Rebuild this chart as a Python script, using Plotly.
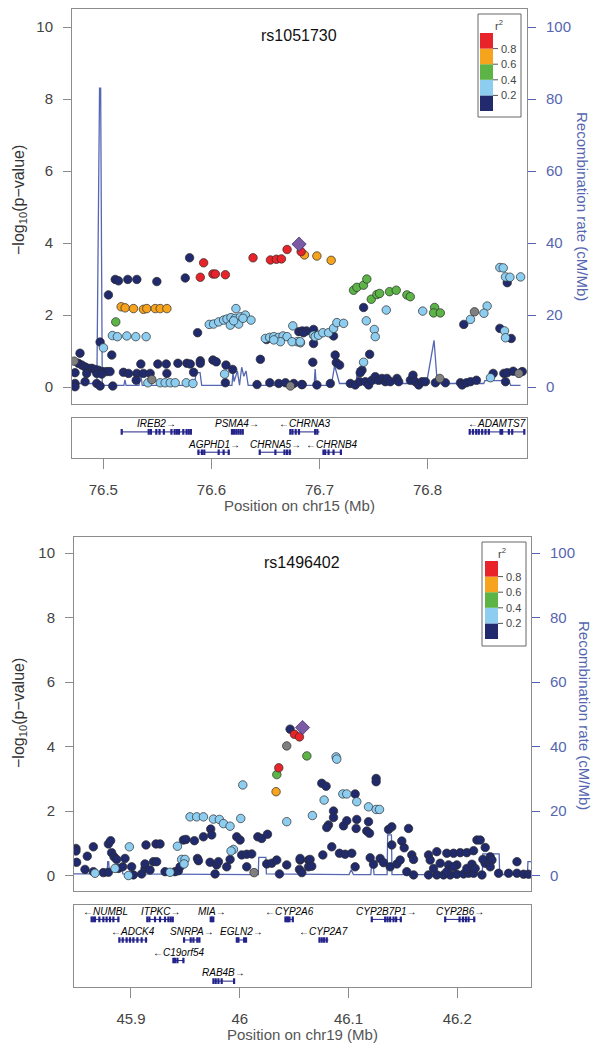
import plotly.graph_objects as go

FONT = "Liberation Sans, Arial, Helvetica, sans-serif"
W, H = 602, 1050
OFF = 8                      # page (body) margin of the browser
FW, FH = W - OFF, H - OFF    # figure size so the page fits the window

C_NAVY = "#202a6c"
C_LBLUE = "#8dcdf0"
C_GREEN = "#5cb447"
C_ORANGE = "#f6a31e"
C_RED = "#e8232a"
C_GRAY = "#7f7f7f"
C_INDEX = "#7b5aa6"
C_REC = "#5567b3"
C_AXIS = "#8c8c8c"
C_GENE = "#23238a"
C_RTXT = "#5566b0"

# ======================= Panel 1: rs1051730 (chr15) =======================
p1_title = "rs1051730"
p1_xlabel = "Position on chr15 (Mb)"
p1_xrange = [76.471, 76.892]
p1_xticks = [76.5, 76.6, 76.7, 76.8]
p1_xticktext = ["76.5", "76.6", "76.7", "76.8"]

p1_navy_x = [76.5798, 76.5758, 76.5495, 76.511, 76.514, 76.5226, 76.531, 76.5047, 76.5872, 76.497, 76.5078, 76.4784, 76.6453,
             76.5347, 76.5504, 76.5582, 76.569, 76.5773, 76.5804, 76.5897, 76.5897, 76.6014, 76.6045, 76.6135, 76.6197,
             76.4769, 76.48, 76.4831, 76.4862, 76.4893, 76.4923, 76.4954, 76.4995, 76.5032, 76.5062, 76.4738, 76.4846, 76.4939, 76.4985,
             76.5186, 76.5233, 76.531, 76.5371, 76.5433, 76.5588, 76.5835, 76.5304,
             76.4738, 76.4738, 76.4831, 76.4939, 76.497, 76.5087, 76.6129, 76.6422, 76.654, 76.6623, 76.6685, 76.6762, 76.684,
             76.651, 76.6809, 76.684, 76.688,
             76.6852, 76.6945, 76.6945, 76.713, 76.6938, 76.7145, 76.7155, 76.7186, 76.7408, 76.7464, 76.7393, 76.7377, 76.8335, 76.8669, 76.8774, 76.8737,
             76.6836, 76.6976, 76.71, 76.7285, 76.7331, 76.7371, 76.7424, 76.7455, 76.7485, 76.7516, 76.7547, 76.7578, 76.7609, 76.7624, 76.7655,
             76.7717, 76.7733, 76.7841, 76.7865, 76.7887, 76.7918, 76.7949, 76.798, 76.8072, 76.8165, 76.8304, 76.832, 76.836, 76.8397, 76.8452,
             76.8607, 76.8706, 76.8721, 76.8737, 76.8792, 76.8876]
p1_navy_y = [3.59, 3.03, 2.93, 2.99, 2.95, 2.99, 2.99, 2.56, 1.51, 1.25, 0.89, 0.94, 0.77,
             0.64, 0.64, 0.64, 0.66, 0.66, 0.64, 0.73, 0.66, 0.75, 0.70, 0.61, 0.49,
             0.66, 0.61, 0.56, 0.52, 0.52, 0.49, 0.47, 0.43, 0.43, 0.43, 0.40, 0.38, 0.38, 0.36,
             0.41, 0.38, 0.38, 0.38, 0.38, 0.38, 0.41, 0.19,
             0.10, 0.01, 0.15, 0.10, 0.03, 0.03, 0.12, 0.07, 0.12, 0.10, 0.12, 0.10, 0.07,
             1.32, 1.54, 1.56, 1.56,
             1.51, 1.60, 1.21, 1.42, 0.69, 0.89, 0.68, 0.61, 2.21, 0.91, 0.47, 0.40, 1.74, 1.63, 1.35, 2.90,
             0.07, 0.06, 0.10, 0.10, 0.06, 0.15, 0.15, 0.06, 0.19, 0.29, 0.19, 0.24, 0.15, 0.24, 0.15,
             0.24, 0.15, 0.19, 0.33, 0.15, 0.06, 0.15, 0.15, 0.12, 0.12, 0.12, 0.06, 0.12, 0.15, 0.19,
             0.38, 0.38, 0.15, 0.40, 0.44, 0.43]

p1_lblue_x = [76.5084, 76.513, 76.5217, 76.53, 76.5396, 76.5001,
              76.6227, 76.598, 76.602, 76.6067, 76.6113, 76.6144, 76.6181, 76.6221, 76.6268, 76.6314, 76.6366, 76.6175, 76.6252, 76.6206, 76.6292,
              76.5412, 76.5526, 76.5572, 76.5619, 76.5665, 76.5767, 76.5829, 76.6122,
              76.6499, 76.6539, 76.6577, 76.6623, 76.6663, 76.67, 76.6753, 76.6793, 76.6639, 76.6746, 76.6824, 76.6577,
              76.6821, 76.6945, 76.696, 76.6991, 76.7031, 76.7084, 76.713, 76.7161, 76.7223,
              76.7618, 76.7955, 76.7433, 76.7507, 76.7516, 76.7408,
              76.8669, 76.87, 76.8721, 76.8762, 76.8861,
              76.8551, 76.8521, 76.8397, 76.8712, 76.8721, 76.8582]
p1_lblue_y = [1.43, 1.40, 1.42, 1.40, 1.40, 1.09,
              2.18, 1.74, 1.75, 1.81, 1.86, 1.89, 1.93, 1.91, 1.95, 2.0, 1.86, 1.72, 1.75, 1.84, 1.91,
              0.12, 0.12, 0.12, 0.12, 0.12, 0.12, 0.10, 0.36,
              1.35, 1.38, 1.40, 1.38, 1.42, 1.40, 1.70, 1.26, 1.26, 1.26, 1.23, 1.31,
              1.26, 1.44, 1.40, 1.44, 1.51, 1.51, 1.63, 1.79, 1.77,
              2.14, 2.11, 1.84, 1.60, 1.40, 0.69,
              3.32, 3.31, 3.06, 3.05, 3.06,
              2.25, 2.05, 1.88, 1.56, 1.37, 0.26]

p1_green_x = [76.5115, 76.7315, 76.7346, 76.7407, 76.7438, 76.7479, 76.7531, 76.7556, 76.7648, 76.771, 76.7809, 76.784, 76.8065, 76.8056, 76.8118]
p1_green_y = [1.81, 2.69, 2.77, 2.83, 3.0, 2.44, 2.57, 2.6, 2.65, 2.69, 2.56, 2.51, 2.21, 2.06, 2.06]

p1_orange_x = [76.5165, 76.5202, 76.5279, 76.5371, 76.5402, 76.548, 76.5526, 76.5588, 76.6861, 76.6976, 76.7108]
p1_orange_y = [2.23, 2.20, 2.18, 2.16, 2.18, 2.18, 2.18, 2.18, 3.67, 3.64, 3.52]

p1_red_x = [76.5928, 76.5897, 76.6014, 76.6036, 76.6129, 76.6385, 76.6546, 76.6601, 76.6648, 76.67, 76.683]
p1_red_y = [3.45, 3.05, 3.14, 3.14, 3.12, 3.59, 3.53, 3.55, 3.56, 3.82, 3.76]

p1_gray_x = [76.473, 76.5449, 76.6731, 76.8113, 76.8434, 76.8845]
p1_gray_y = [0.72, 0.21, 0.03, 0.24, 2.09, 0.38]

p1_index_x = [76.6811]
p1_index_y = [3.97]

p1_rec_x = [76.471, 76.494, 76.4965, 76.4975, 76.499, 76.519, 76.520, 76.521, 76.533, 76.5345, 76.536, 76.584, 76.586, 76.5895,
            76.591, 76.619, 76.620, 76.621, 76.624, 76.626, 76.628, 76.630, 76.632, 76.634, 76.695, 76.696, 76.697, 76.711,
            76.714, 76.7185, 76.734, 76.735, 76.736, 76.799, 76.806, 76.809, 76.852, 76.853, 76.875, 76.877, 76.886]
p1_rec_y = [1.0, 1.0, 83, 83, 0.5, 0.5, 2, 0.5, 0.5, 4, 0.5, 0.5, 4, 4,
            0.5, 0.5, 4, 1.5, 4.5, 0.5, 5.5, 3, 4.5, 0.5, 0.5, 5, 0.5, 0.5,
            6, 1.0, 1.0, 5.3, 1.0, 1.0, 13, 1.0, 1.0, 1.8, 1.8, 0.5, 0.5]

p1_gene_name = ["IREB2", "PSMA4", "CHRNA3", "ADAMTS7", "AGPHD1", "CHRNA5", "CHRNB4"]
p1_gene_start = [76.517, 76.619, 76.673, 76.839, 76.587, 76.6445, 76.703]
p1_gene_end = [76.581, 76.629, 76.700, 76.890, 76.617, 76.674, 76.7207]
p1_gene_strand = ["+", "+", "-", "-", "+", "+", "-"]
p1_gene_row = [1, 1, 1, 1, 2, 2, 2]
p1_gene_exons = [
    [76.517, 76.542, 76.544, 76.549, 76.552, 76.556, 76.563, 76.566, 76.568, 76.570, 76.574, 76.577, 76.579, 76.581],
    [76.619, 76.621, 76.623, 76.625, 76.627, 76.629],
    [76.673, 76.675, 76.678, 76.681, 76.696, 76.698],
    [76.839, 76.842, 76.845, 76.8474, 76.8505, 76.8536, 76.8567, 76.8675, 76.869, 76.8752, 76.8783, 76.8895],
    [76.588, 76.5912, 76.5934, 76.6067, 76.6113, 76.616],
    [76.6447, 76.6592, 76.6676, 76.670, 76.6725],
    [76.7037, 76.7053, 76.7084, 76.713, 76.7198],
]

# ======================= Panel 2: rs1496402 (chr19) =======================
p2_title = "rs1496402"
p2_xlabel = "Position on chr19 (Mb)"
p2_xrange = [45.8476, 46.2678]
p2_xticks = [45.9, 46.0, 46.1, 46.2]
p2_xticktext = ["45.9", "46", "46.1", "46.2"]

p2_navy_x = [46.0463,
             45.8494, 45.8494, 45.85, 45.8598, 45.8654, 45.8792, 45.8813, 45.8822, 45.8844, 45.8868, 45.8577, 45.8654, 45.8746, 45.8792,
             45.8884, 45.8924, 45.8945, 45.9006, 45.9022, 45.9098, 45.9129, 45.9129, 45.9175, 45.9206, 45.9236, 45.9138, 45.923, 45.9267,
             45.9313, 45.9405, 45.9436, 45.9451, 45.9482, 45.9506, 45.9583, 45.9611, 45.962, 45.9666, 45.9733, 45.9742, 45.9727, 45.9773,
             45.9788, 45.9804, 45.988, 45.9911, 45.9972, 46.0003, 46.0018, 46.0064, 46.011, 46.0064, 46.0166, 46.0202, 46.0255, 46.0248,
             46.0294, 46.034, 46.0365, 46.0432, 46.0549, 46.0555, 46.0571, 46.0632, 46.0632,
             46.1254, 46.1254, 46.0754, 46.0794, 46.1061, 46.0862, 46.0862, 46.0816, 46.08, 46.0954, 46.0984, 46.1076, 46.107, 46.1184,
             46.1168, 46.1193, 46.1368, 46.1398, 46.1552, 46.0846, 46.0764, 46.0917, 46.0969, 46.103, 46.1061, 46.1199, 46.123, 46.1291,
             46.1322, 46.1383, 46.1445, 46.1475, 46.1398, 46.149, 46.1512, 46.1582, 46.1598, 46.1536, 46.1598, 46.1736, 46.1812, 46.1874,
             46.1935, 46.1996, 46.2058, 46.2104, 46.215, 46.2227, 46.238, 46.2472, 46.2549, 46.261, 46.2656, 46.1736, 46.1812, 46.1904,
             46.1966, 46.2027, 46.2088, 46.215, 46.2181, 46.2211, 46.2257, 46.2303, 46.2319, 46.2257, 46.2236, 46.1751, 46.1843, 46.192,
             46.1996, 46.2088, 46.2135, 46.2165, 46.1904, 46.2549, 46.0555, 46.0647, 46.0662, 46.1966, 46.1782, 46.2303]
p2_navy_y = [4.54,
             0.84, 0.76, 0.41, 0.60, 0.89, 0.98, 1.08, 0.71, 0.58, 0.50, 0.19, 0.12, 0.09, 0.10,
             0.22, 0.27, 0.53, 0.27, 0.02, 0.05, 0.22, 0.36, 0.17, 0.43, 0.43, 0.95, 0.98, 0.98,
             0.12, 0.12, 0.15, 0.27, 1.10, 1.12, 1.08, 0.53, 0.46, 1.20, 1.44, 1.26, 0.41, 0.05,
             0.33, 0.43, 0.27, 0.50, 1.20, 1.10, 0.64, 0.66, 0.67, 0.27, 1.20, 1.15, 1.28, 0.36,
             0.38, 0.48, 0.05, 0.33, 0.19, 0.48, 0.09, 0.48, 0.27,
             3.01, 2.91, 2.86, 2.77, 2.53, 2.00, 1.80, 1.57, 1.49, 1.54, 1.70, 1.74, 1.46, 1.67,
             1.38, 1.31, 1.43, 1.51, 1.46, 0.89, 0.64, 0.69, 0.66, 0.69, 0.27, 0.55, 0.35, 0.53,
             0.40, 0.27, 0.36, 0.48, 0.95, 1.07, 0.86, 0.64, 0.50, 0.12, 0.02, 0.02, 0.02, 0.02,
             0.02, 0.04, 0.05, 0.07, 0.07, 0.02, 0.07, 0.07, 0.07, 0.04, 0.04, 0.64, 0.74, 0.69,
             0.69, 0.71, 0.71, 0.77, 1.10, 1.10, 0.87, 0.58, 0.48, 0.38, 0.50, 0.48, 0.38, 0.33,
             0.33, 0.22, 0.35, 0.22, 0.12, 0.43, 0.53, 0.50, 0.29, 0.27, 0.22, 0.27]

p2_lblue_x = [46.0028, 46.0432, 45.9543, 45.9604, 45.9666, 45.9758, 45.9813, 45.985, 45.9911, 46.0009, 45.9942, 45.992, 45.9427,
              45.8985, 45.8669, 45.8853, 45.8976, 45.9466, 45.9497, 45.9488, 45.9359,
              46.0886, 46.0892, 46.0776, 46.0948, 46.0984, 46.1076, 46.1184, 46.1254, 46.1285, 46.0668]
p2_lblue_y = [2.81, 1.67, 1.82, 1.82, 1.82, 1.75, 1.74, 1.61, 1.53, 1.77, 0.81, 0.76, 0.91,
              0.89, 0.07, 0.22, 0.00, 0.50, 0.50, 0.36, 0.10,
              3.68, 3.61, 2.34, 2.53, 2.53, 2.29, 2.13, 2.05, 2.05, 1.86]

p2_green_x = [46.0341, 46.0617]
p2_green_y = [3.13, 3.71]
p2_orange_x = [46.0334]
p2_orange_y = [2.60]
p2_red_x = [46.0359, 46.0503, 46.0549]
p2_red_y = [3.34, 4.38, 4.30]
p2_gray_x = [46.0432, 46.0132]
p2_gray_y = [4.02, 0.09]
p2_index_x = [46.0577]
p2_index_y = [4.59]

p2_rec_x = [45.8476, 45.878, 45.8786, 45.8795, 45.880, 45.892, 45.8925, 45.951, 45.96, 46.017, 46.0175, 46.024, 46.0245,
            46.1005, 46.1025, 46.1045, 46.1205, 46.121, 46.123, 46.1235, 46.1355, 46.136, 46.1395, 46.140,
            46.223, 46.2235, 46.2385, 46.239, 46.2645, 46.265, 46.2678]
p2_rec_y = [0.5, 0.5, 4.3, 4.3, 1.5, 1.5, 0.5, 0.5, 0.3, 0.3, 5.6, 5.6, 0.5,
            0.3, 1.8, 0.3, 0.3, 2.5, 2.5, 0.3, 0.3, 12.6, 12.6, 0.3,
            0.3, 6.7, 6.7, 0.3, 0.3, 4.3, 4.3]

p2_gene_name = ["NUMBL", "ITPKC", "MIA", "CYP2A6", "CYP2B7P1", "CYP2B6", "ADCK4", "SNRPA", "EGLN2", "CYP2A7", "C19orf54", "RAB4B"]
p2_gene_start = [45.8638, 45.915, 45.9733, 46.042, 46.1214, 46.1889, 45.889, 45.9488, 45.9966, 46.0732, 45.939, 45.9757]
p2_gene_end = [45.8892, 45.939, 45.9757, 46.0488, 46.149, 46.2165, 45.915, 45.9635, 46.0064, 46.0815, 45.949, 45.995]
p2_gene_strand = ["-", "+", "+", "-", "+", "+", "-", "+", "+", "-", "-", "+"]
p2_gene_row = [1, 1, 1, 1, 1, 1, 2, 2, 2, 2, 3, 4]
p2_gene_exons = [
    [45.8638, 45.8654, 45.8669, 45.8709, 45.8746, 45.8776, 45.8807, 45.8838, 45.8884],
    [45.915, 45.9169, 45.9221, 45.9267, 45.9313, 45.9344, 45.9365, 45.9384],
    [45.9733, 45.9745, 45.9757],
    [46.042, 46.0432, 46.0445, 46.0457, 46.0488],
    [46.1214, 46.1337, 46.1359, 46.1383, 46.1414, 46.1438, 46.1481],
    [46.1889, 46.2021, 46.2052, 46.2079, 46.2104, 46.2156],
    [45.8893, 45.8924, 45.896, 45.8991, 45.9022, 45.9059, 45.9098, 45.9138],
    [45.9488, 45.9549, 45.9574, 45.961, 45.9629],
    [45.9973, 45.9988, 46.004, 46.0058],
    [46.0733, 46.0754, 46.0776, 46.08],
    [45.939, 45.9405, 45.9427, 45.9482],
    [45.9758, 45.9779, 45.9804, 45.9834, 45.9948],
]

r2_breaks = [0.2, 0.4, 0.6, 0.8]
r2_colors = [C_NAVY, C_LBLUE, C_GREEN, C_ORANGE, C_RED]


# ----------------------------------------------------------------------------
def px_x(v):
    return (v - OFF) / FW


def px_y(v):
    return 1 - (v - OFF) / FH


fig = go.Figure()
annotations = []
shapes = []


def add_panel(P, ax):
    xm, yrec, yp, xg, yg = ax
    fig.add_trace(go.Scatter(x=P["rec_x"], y=P["rec_y"], mode="lines", xaxis=xm, yaxis=yrec,
                             line=dict(color=C_REC, width=1.3), hoverinfo="skip"))
    cats = [("navy", C_NAVY), ("lblue", C_LBLUE), ("green", C_GREEN), ("orange", C_ORANGE),
            ("red", C_RED), ("gray", C_GRAY)]
    for key, col in cats:
        fig.add_trace(go.Scatter(x=P[key + "_x"], y=P[key + "_y"], mode="markers", xaxis=xm, yaxis=yp,
                                 marker=dict(color=col, size=8.5, line=dict(color="#2b2b2b", width=0.7))))
    fig.add_trace(go.Scatter(x=P["index_x"], y=P["index_y"], mode="markers", xaxis=xm, yaxis=yp,
                             marker=dict(symbol="diamond", color=C_INDEX, size=11,
                                         line=dict(color="#3a2a5a", width=0.7))))
    gx, gy, ex, ey = [], [], [], []
    for name, s, e, st, row, exons in zip(P["gname"], P["gstart"], P["gend"], P["gstrand"], P["grow"], P["gexons"]):
        yline = -(row - 1) - 0.70
        ylab = -(row - 1) - 0.30
        gx += [s, e, None]
        gy += [yline, yline, None]
        ex += exons
        ey += [yline] * len(exons)
        label = f"<i>{name}→</i>" if st == "+" else f"<i>←{name}</i>"
        annotations.append(dict(x=(s + e) / 2, y=ylab, xref=xg, yref=yg, text=label, showarrow=False,
                                font=dict(family=FONT, size=10, color="#000000"), xanchor="center", yanchor="middle"))
    fig.add_trace(go.Scatter(x=gx, y=gy, mode="lines", xaxis=xg, yaxis=yg,
                             line=dict(color=C_GENE, width=1), hoverinfo="skip"))
    fig.add_trace(go.Scatter(x=ex, y=ey, mode="markers", xaxis=xg, yaxis=yg,
                             marker=dict(symbol="line-ns", size=4, color=C_GENE, line=dict(color=C_GENE, width=2.2)),
                             hoverinfo="skip"))


P1 = dict(rec_x=p1_rec_x, rec_y=p1_rec_y,
          navy_x=p1_navy_x, navy_y=p1_navy_y, lblue_x=p1_lblue_x, lblue_y=p1_lblue_y,
          green_x=p1_green_x, green_y=p1_green_y, orange_x=p1_orange_x, orange_y=p1_orange_y,
          red_x=p1_red_x, red_y=p1_red_y, gray_x=p1_gray_x, gray_y=p1_gray_y,
          index_x=p1_index_x, index_y=p1_index_y,
          gname=p1_gene_name, gstart=p1_gene_start, gend=p1_gene_end, gstrand=p1_gene_strand,
          grow=p1_gene_row, gexons=p1_gene_exons)
P2 = dict(rec_x=p2_rec_x, rec_y=p2_rec_y,
          navy_x=p2_navy_x, navy_y=p2_navy_y, lblue_x=p2_lblue_x, lblue_y=p2_lblue_y,
          green_x=p2_green_x, green_y=p2_green_y, orange_x=p2_orange_x, orange_y=p2_orange_y,
          red_x=p2_red_x, red_y=p2_red_y, gray_x=p2_gray_x, gray_y=p2_gray_y,
          index_x=p2_index_x, index_y=p2_index_y,
          gname=p2_gene_name, gstart=p2_gene_start, gend=p2_gene_end, gstrand=p2_gene_strand,
          grow=p2_gene_row, gexons=p2_gene_exons)

add_panel(P1, ("x", "y", "y2", "x2", "y3"))
add_panel(P2, ("x3", "y4", "y5", "x4", "y6"))

tickfont = dict(family=FONT, size=15, color="#444444")
rfont = dict(family=FONT, size=15, color=C_RTXT)


def main_x(domain, rng, anchor):
    return dict(domain=domain, range=rng, anchor=anchor, showline=True, mirror=True, linecolor=C_AXIS,
                linewidth=1, showticklabels=False, ticks="", showgrid=False, zeroline=False)


def rec_y(domain, rng, anchor):
    return dict(domain=domain, range=rng, anchor=anchor, side="right", tickvals=[0, 20, 40, 60, 80, 100],
                ticks="outside", ticklen=8, tickcolor=C_RTXT, tickfont=rfont, showline=True, mirror=True,
                linecolor=C_AXIS, linewidth=1, showgrid=False, zeroline=False, ticklabelstandoff=7)


def p_y(over, rng, anchor):
    return dict(overlaying=over, range=rng, anchor=anchor, side="left", tickvals=[0, 2, 4, 6, 8, 10],
                ticks="outside", ticklen=8, tickcolor=C_AXIS, tickfont=tickfont, showline=False,
                showgrid=False, zeroline=False, ticklabelstandoff=7)


def gene_x(domain, rng, anchor, tv, tt):
    return dict(domain=domain, range=rng, anchor=anchor, tickvals=tv, ticktext=tt, ticks="outside", ticklen=10,
                tickcolor=C_AXIS, tickfont=tickfont, showline=True, mirror=True, linecolor=C_AXIS, linewidth=1,
                showgrid=False, zeroline=False, ticklabelstandoff=8)


def gene_y(domain, rng, anchor):
    return dict(domain=domain, range=rng, anchor=anchor, showline=True, mirror=True, linecolor=C_AXIS,
                linewidth=1, showticklabels=False, ticks="", showgrid=False, zeroline=False)


d1x = [px_x(72), px_x(527)]
d2x = [px_x(74), px_x(531)]
layout_axes = dict(
    xaxis=main_x(d1x, p1_xrange, "y"),
    yaxis=rec_y([px_y(404), px_y(9)], [-4.7, 105], "x"),
    yaxis2=p_y("y", [-0.47, 10.5], "x"),
    xaxis2=gene_x(d1x, p1_xrange, "y3", p1_xticks, p1_xticktext),
    yaxis3=gene_y([px_y(458.3), px_y(417.7)], [-2, 0], "x2"),
    xaxis3=main_x(d2x, p2_xrange, "y4"),
    yaxis4=rec_y([px_y(891), px_y(537)], [-4.8, 105], "x3"),
    yaxis5=p_y("y4", [-0.48, 10.5], "x3"),
    xaxis4=gene_x(d2x, p2_xrange, "y6", p2_xticks, p2_xticktext),
    yaxis6=gene_y([px_y(987.3), px_y(905)], [-4, 0], "x4"),
)


def text_ann(x, y, text, size=15, color="#222222", angle=0, xanchor="center"):
    annotations.append(dict(x=px_x(x), y=px_y(y), xref="paper", yref="paper", text=text, showarrow=False,
                            textangle=angle, xanchor=xanchor, yanchor="middle",
                            font=dict(family=FONT, size=size, color=color)))


text_ann(299, 35, p1_title, size=16, color="#111111")
text_ann(302, 562, p2_title, size=16, color="#111111")
text_ann(19, 200, "−log<sub>10</sub>(p−value)", size=16, color="#333333", angle=-90)
text_ann(19, 713, "−log<sub>10</sub>(p−value)", size=16, color="#333333", angle=-90)
text_ann(582, 206, "Recombination rate (cM/Mb)", size=15, color=C_RTXT, angle=90)
text_ann(585, 715, "Recombination rate (cM/Mb)", size=15, color=C_RTXT, angle=90)
text_ann(299, 505, p1_xlabel, size=15, color="#555555")
text_ann(302, 1034, p2_xlabel, size=15, color="#555555")


def legend(bx0, by0, bx1, by1, sx0, sx1, sy0, sy1, tx, ty):
    shapes.append(dict(type="rect", xref="paper", yref="paper", x0=px_x(bx0), x1=px_x(bx1), y0=px_y(by1), y1=px_y(by0),
                       line=dict(color="#666666", width=1), fillcolor="white", layer="above"))
    n = len(r2_colors)
    step = (sy1 - sy0) / n
    for i, col in enumerate(r2_colors):
        top = sy1 - (i + 1) * step
        bot = sy1 - i * step
        shapes.append(dict(type="rect", xref="paper", yref="paper", x0=px_x(sx0), x1=px_x(sx1),
                           y0=px_y(bot), y1=px_y(top), line=dict(width=0), fillcolor=col, layer="above"))
    for i, b in enumerate(r2_breaks):
        yb = sy1 - (i + 1) * step
        shapes.append(dict(type="line", xref="paper", yref="paper", x0=px_x(sx1), x1=px_x(sx1 + 5),
                           y0=px_y(yb), y1=px_y(yb), line=dict(color="#555555", width=1), layer="above"))
        text_ann(sx1 + 6, yb, f"{b:.1f}", size=11, color="#444444", xanchor="left")
    text_ann(tx, ty, "r<sup>2</sup>", size=11, color="#444444")


legend(478, 14, 521, 117, 480, 493, 33, 111, 499, 25)
legend(482, 542, 526, 646, 485, 498, 561, 639, 502, 553)

fig.update_layout(width=FW, height=FH, margin=dict(l=0, r=0, t=0, b=0), paper_bgcolor="white",
                  plot_bgcolor="white", showlegend=False, annotations=annotations, shapes=shapes,
                  font=dict(family=FONT), **layout_axes)

fig.write_html("out.html")
